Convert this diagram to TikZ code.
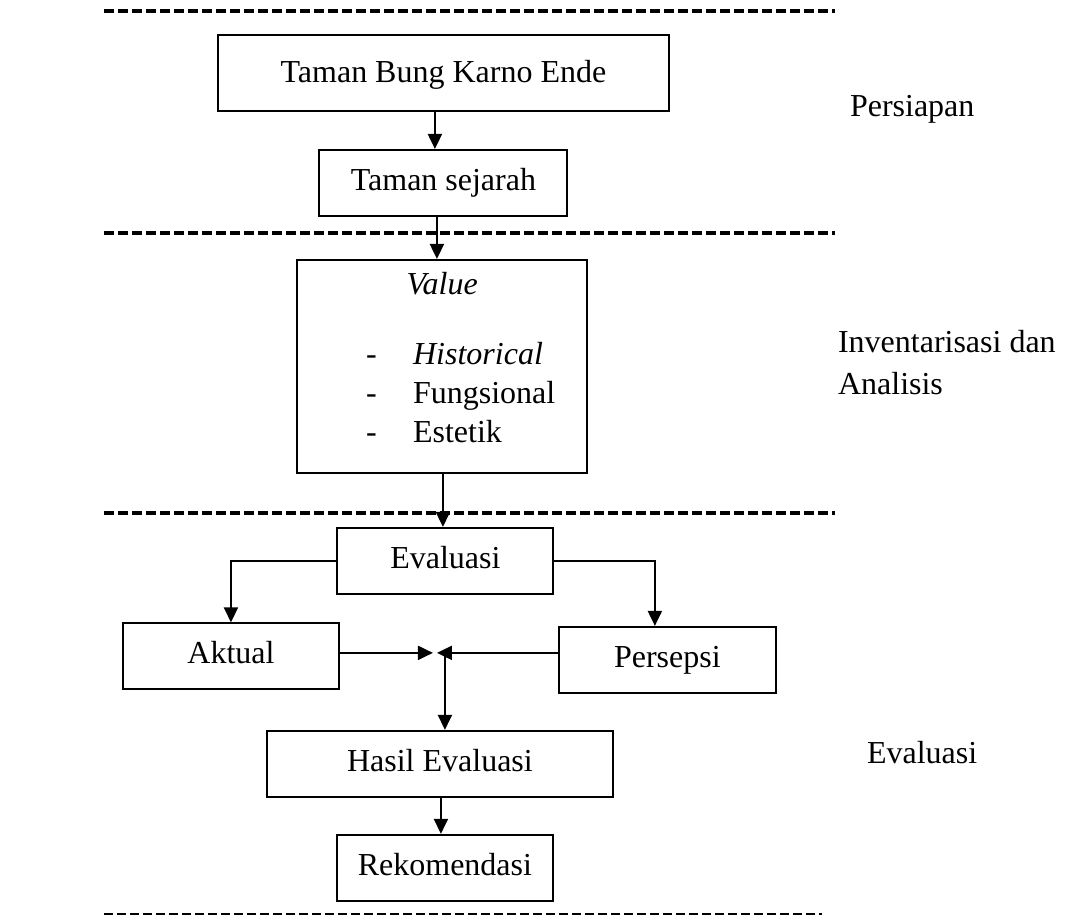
\documentclass[tikz,border=0pt]{standalone}
\usepackage{fontspec}
\setmainfont{Liberation Serif}
\usetikzlibrary{arrows.meta, positioning}
\newcommand\Itemrow[1]{\makebox[47pt][l]{-}#1}

\begin{document}
\begin{tikzpicture}[x=1pt, y=-1pt,
font=\fontsize{32}{39}\selectfont,
box/.style={
  draw, line width=2pt, inner sep=0pt,
  minimum height=66pt,
  text height=22pt, text depth=7pt
},
arr/.style={line width=2pt, -{Triangle[length=15pt, width=14pt]}},
sepline/.style={line width=4pt, dash pattern=on 10pt off 4pt},
stagetext/.style={anchor=base west, inner sep=0pt}]
\fill[white] (0,0) rectangle (1073,923);

\foreach \y in {11,233,513}
  \draw[sepline] (104,\y) -- (835,\y);
\draw[line width=2pt, dash pattern=on 9pt off 4pt] (104,914) -- (822,914);

\node (tbke) [box, minimum width=451pt, minimum height=76pt, text height=27pt] at (443.5,73) {Taman Bung Karno Ende};
\node (tsej) [box, minimum width=248pt, below=37pt of tbke] {Taman sejarah};
\node (value) [draw, line width=2pt, minimum width=290pt, minimum height=213pt,
  below=42pt of tsej, xshift=-1pt] {};
\node (valuetext) [stagetext] at (366,295) {\parbox[t]{180pt}{%
  \makebox[152pt]{\textit{Value}}\\[31pt]
  \Itemrow{\textit{Historical}}\\
  \Itemrow{Fungsional}\\
  \Itemrow{Estetik}}};
\node (eval) [box, minimum width=216pt, below=53pt of value, xshift=3pt] {Evaluasi};
\node (aktual) [box, minimum width=216pt] at (231,656.5) {Aktual};
\node (persepsi) [box, minimum width=217pt] at (667.5,660) {Persepsi};
\node (hasil) [box, minimum width=346pt] at (440,764) {Hasil Evaluasi};
\node (rekom) [box, minimum width=216pt, below=36pt of hasil, xshift=5pt] {Rekomendasi};

\node (persiapan) [stagetext] at (850,117) {Persiapan};
\node (inventaris) [stagetext] at (838,353) {\parbox[t]{235pt}{\baselineskip=42pt
  Inventarisasi dan\\Analisis}};
\node (evalstage) [stagetext] at (867,764) {Evaluasi};

\coordinate (colA) at (435,0);
\coordinate (colB) at (437,0);
\coordinate (colC) at (443,0);
\coordinate (colD) at (441,0);
\coordinate (rbranch) at (655,0);
\coordinate (meet) at (445,653);
\coordinate (meetL) at (433,653);
\coordinate (meetR) at (437,653);

\draw[arr] (tbke.south -| colA) -- (tsej.north -| colA);
\draw[arr] (tsej.south -| colB) -- (value.north -| colB);
\draw[arr] (value.south -| colC) -- (eval.north -| colC);
\draw[arr] (eval.west) -| (aktual.north);
\draw[arr] (eval.east) -| (persepsi.north -| rbranch);
\draw[arr] (aktual.east |- meet) -- (meetL);
\draw[arr] (persepsi.west |- meet) -- (meetR);
\draw[arr] (meet) -- (hasil.north -| meet);
\draw[arr] (hasil.south -| colD) -- (rekom.north -| colD);
\end{tikzpicture}
\end{document}
